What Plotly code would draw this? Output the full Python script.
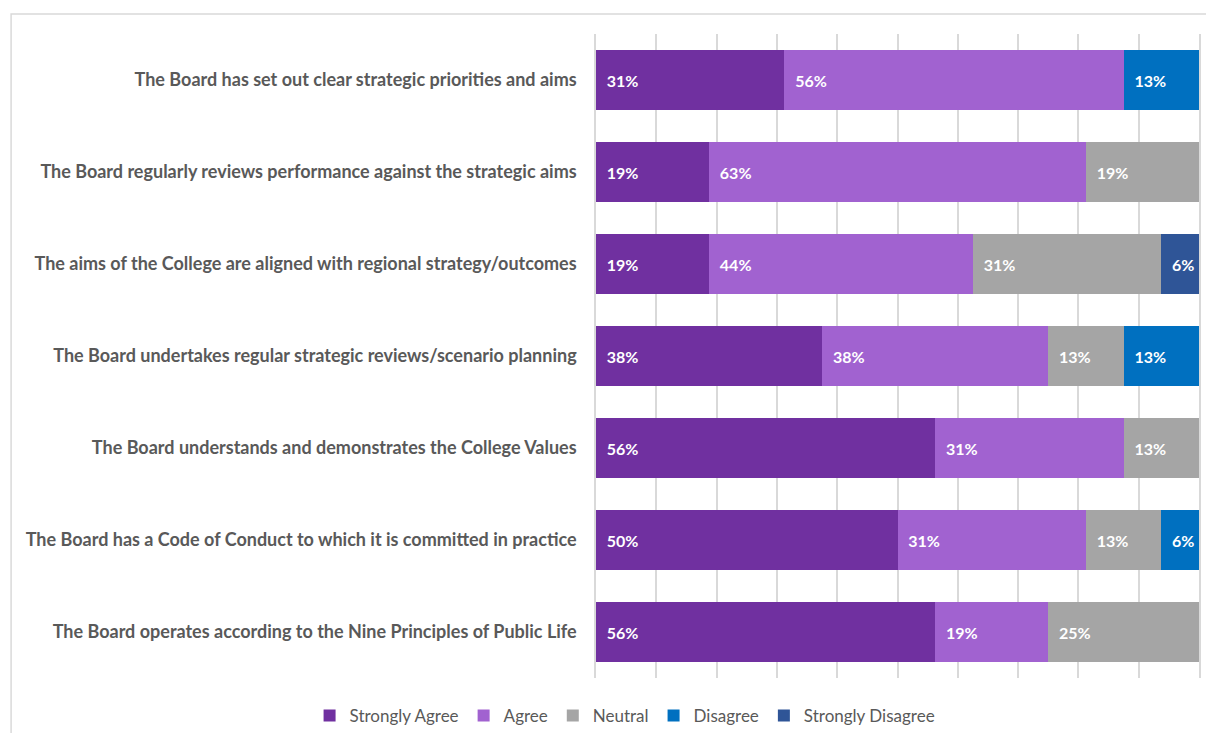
import plotly.graph_objects as go

statements = [
    "The Board has set out clear strategic priorities and aims",
    "The Board regularly reviews performance against the strategic aims",
    "The aims of the College are aligned with regional strategy/outcomes",
    "The Board undertakes regular strategic reviews/scenario planning",
    "The Board understands and demonstrates the College Values",
    "The Board has a Code of Conduct to which it is committed in practice",
    "The Board operates according to the Nine Principles of Public Life",
]

responses = ["Strongly Agree", "Agree", "Neutral", "Disagree", "Strongly Disagree"]

strongly_agree = [31.25, 18.75, 18.75, 37.5, 56.25, 50.0, 56.25]
agree = [56.25, 62.5, 43.75, 37.5, 31.25, 31.25, 18.75]
neutral = [0, 18.75, 31.25, 12.5, 12.5, 12.5, 25.0]
disagree = [12.5, 0, 0, 12.5, 0, 6.25, 0]
strongly_disagree = [0, 0, 6.25, 0, 0, 0, 0]

colors = ["#7030A0", "#A162D0", "#A5A5A5", "#0070C0", "#2F5597"]
series = [strongly_agree, agree, neutral, disagree, strongly_disagree]

FONT = "Lato"

fig = go.Figure()
for name, vals, col in zip(responses, series, colors):
    # hide labels for empty segments
    txt = ["  %.0f%%" % (v + 1e-9) if v > 0 else "" for v in vals]
    fig.add_trace(go.Bar(
        y=statements, x=vals, name=name, orientation="h",
        marker=dict(color=col, line=dict(width=0)),
        text=txt, textposition="inside", insidetextanchor="start",
        textangle=0, constraintext="none",
        textfont=dict(color="white", size=16, family=FONT, weight="bold"),
    ))

fig.update_layout(
    width=1206, height=733,
    barmode="stack", bargap=0.35,
    plot_bgcolor="white", paper_bgcolor="white",
    margin=dict(l=596, r=7, t=34, b=55, autoexpand=False),
    font=dict(family=FONT, color="#595959"),
    showlegend=True,
    legend=dict(orientation="h", x=-0.475, xanchor="left", y=-0.031, yanchor="top",
                traceorder="normal", font=dict(size=17, family=FONT, color="#595959"),
                itemwidth=30),
)
fig.update_xaxes(range=[0, 100], dtick=10, showticklabels=False, showgrid=True,
                 gridcolor="#D9D9D9", gridwidth=1.5, zeroline=False, showline=False)
fig.update_yaxes(autorange="reversed", showgrid=False, ticks="", ticklabelstandoff=14,
                 showline=True, mirror=True, linecolor="#D9D9D9", linewidth=1.5,
                 tickfont=dict(size=18, family=FONT, color="#595959", weight="bold"))

# outer chart frame
fig.add_shape(type="rect", xref="paper", yref="paper",
              x0=-0.970, x1=1.05, y0=-0.2, y1=1.031,
              line=dict(color="#D9D9D9", width=1.5), layer="below")

fig.write_html("out.html", config={"displayModeBar": False},
               post_script="document.body.style.margin='0';document.body.style.overflow='hidden';")
